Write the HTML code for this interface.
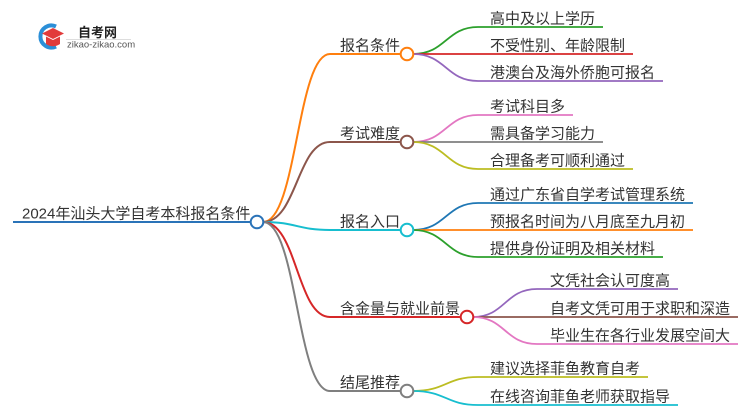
<!DOCTYPE html>
<html><head><meta charset="utf-8">
<style>
html,body{margin:0;padding:0;background:#fff;}
svg{display:block;}
text{font-family:"Liberation Sans","Noto Sans CJK SC",sans-serif;fill:#333;}
</style></head>
<body>
<svg width="750" height="410" viewBox="0 0 750 410" xmlns="http://www.w3.org/2000/svg">
<!-- logo -->
<path d="M56,26.5 A11,11 0 1 0 56,46.5" fill="none" stroke="#2b8fd8" stroke-width="4"/>
<polygon points="42,33.5 53,28 64,33.5 53,39" fill="#e23b3b"/>
<path d="M46,36.5 L46,44 Q53,48.5 60,44 L60,36.5 L53,40 Z" fill="#e23b3b"/>
<text x="78" y="37" style="font-size:13px;font-weight:bold;fill:#222">自考网</text>
<line x1="66" y1="39.5" x2="131" y2="39.5" stroke="#ddd" stroke-width="1"/>
<text x="67" y="47.5" style="font-size:9.5px;fill:#555">zikao-zikao.com</text>

<g fill="none" stroke-width="2">
<!-- root -->
<line x1="13" y1="222" x2="251" y2="222" stroke="#2a73b8"/>
<!-- main branches -->
<path d="M263,222 C297,222 297,54 330,54 L401,54" stroke="#ff7f0e"/>
<path d="M263,222 C297,222 297,142 330,142 L401,142" stroke="#8c564b"/>
<path d="M263,222 C297,222 297,230 330,230 L401,230" stroke="#17becf"/>
<path d="M263,222 C297,222 297,317 330,317 L461,317" stroke="#d62728"/>
<path d="M263,222 C297,222 297,391 330,391 L401,391" stroke="#7f7f7f"/>
</g>

<g fill="none" stroke-width="1.8">
<!-- branch 1 leaves -->
<path d="M413,54 C446,54 446,27 478,27 L603,27" stroke="#2ca02c"/>
<path d="M413,54 L633,54" stroke="#d62728"/>
<path d="M413,54 C446,54 446,81 478,81 L663,81" stroke="#9467bd"/>
<!-- branch 2 leaves -->
<path d="M413,142 C446,142 446,115 478,115 L573,115" stroke="#e377c2"/>
<path d="M413,142 L603,142" stroke="#7f7f7f"/>
<path d="M413,142 C446,142 446,169 478,169 L633,169" stroke="#bcbd22"/>
<!-- branch 3 leaves -->
<path d="M413,230 C446,230 446,203 478,203 L693,203" stroke="#1f77b4"/>
<path d="M413,230 L693,230" stroke="#ff7f0e"/>
<path d="M413,230 C446,230 446,257 478,257 L663,257" stroke="#2ca02c"/>
<!-- branch 4 leaves -->
<path d="M473,317 C505,317 505,289 537,289 L678,289" stroke="#9467bd"/>
<path d="M473,317 L738,317" stroke="#8c564b"/>
<path d="M473,317 C505,317 505,344 537,344 L738,344" stroke="#e377c2"/>
<!-- branch 5 leaves -->
<path d="M413,391 C446,391 446,377 478,377 L648,377" stroke="#bcbd22"/>
<path d="M413,391 C446,391 446,405 478,405 L678,405" stroke="#17becf"/>
</g>

<!-- circles -->
<g fill="#fff" stroke-width="2">
<circle cx="257" cy="222" r="6.3" stroke="#2a73b8"/>
<circle cx="407" cy="54" r="6.3" stroke="#ff7f0e"/>
<circle cx="407" cy="142" r="6.3" stroke="#8c564b"/>
<circle cx="407" cy="230" r="6.3" stroke="#17becf"/>
<circle cx="467" cy="317" r="6.3" stroke="#d62728"/>
<circle cx="407" cy="391" r="6.3" stroke="#7f7f7f"/>
</g>

<!-- root text -->
<text x="22" y="218.5" style="font-size:15px">2024年汕头大学自考本科报名条件</text>

<!-- branch labels -->
<g style="font-size:15px">
<text x="340" y="50.5">报名条件</text>
<text x="340" y="138.5">考试难度</text>
<text x="340" y="226.5">报名入口</text>
<text x="340" y="313.5">含金量与就业前景</text>
<text x="340" y="387.5">结尾推荐</text>
</g>

<!-- leaf labels -->
<g style="font-size:15px">
<text x="490" y="23.5">高中及以上学历</text>
<text x="490" y="50.5">不受性别、年龄限制</text>
<text x="490" y="77.5">港澳台及海外侨胞可报名</text>
<text x="490" y="111.5">考试科目多</text>
<text x="490" y="138.5">需具备学习能力</text>
<text x="490" y="165.5">合理备考可顺利通过</text>
<text x="490" y="199.5">通过广东省自学考试管理系统</text>
<text x="490" y="226.5">预报名时间为八月底至九月初</text>
<text x="490" y="253.5">提供身份证明及相关材料</text>
<text x="550" y="285.5">文凭社会认可度高</text>
<text x="550" y="313.5">自考文凭可用于求职和深造</text>
<text x="550" y="340.5">毕业生在各行业发展空间大</text>
<text x="490" y="373.5">建议选择菲鱼教育自考</text>
<text x="490" y="401.5">在线咨询菲鱼老师获取指导</text>
</g>
</svg>
</body></html>
